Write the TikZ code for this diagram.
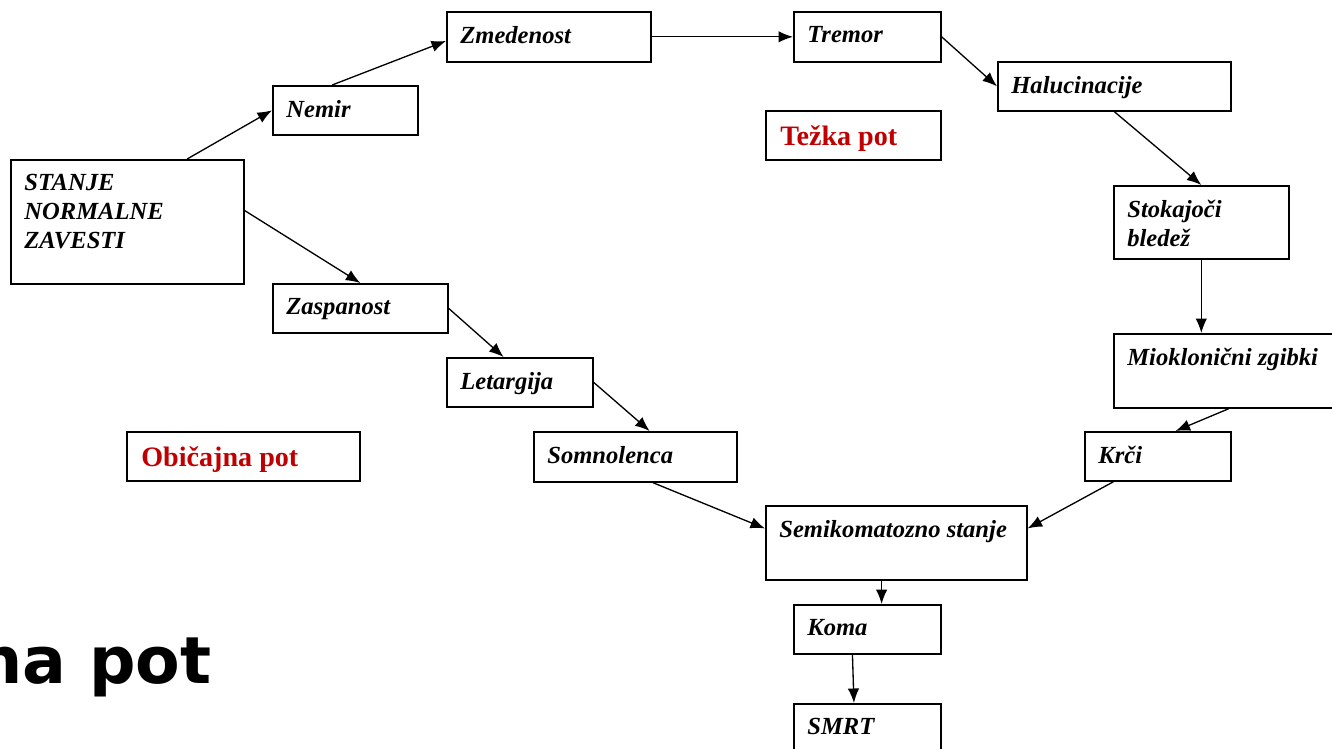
\documentclass[tikz,border=0pt]{standalone}
\usepackage{fontspec}
\setmainfont{Liberation Serif}
\newfontfamily\bigsans{DejaVu Sans}
\usetikzlibrary{calc,arrows.meta}
\definecolor{darkred}{HTML}{C00000}

\tikzset{
  box/.style={draw, line width=0.95pt, anchor=north west, inner sep=0pt,
    minimum height=0.98cm},
  txt/.style={anchor=north west, inner sep=0pt, align=left,
    font=\bfseries\itshape\fontsize{14}{16.5}\selectfont,
    xshift=0.28cm, yshift=-0.3cm},
  redtxt/.style={txt, font=\bfseries\fontsize{16}{19}\selectfont,
    text=darkred, xshift=0.02cm},
  arr/.style={-{Latex[length=2.9mm,width=2.3mm]}, line width=0.75pt},
}

\begin{document}
\begin{tikzpicture}[x=0.02cm, y=-0.02cm]
  \path[use as bounding box, clip] (0,0) rectangle (1332,748);

  % left column and the common path
  \node[box, minimum width=4.66cm, minimum height=2.48cm] (stanje) at (10,159) {};
  \node[txt] (stanjetxt) at (stanje.north west) {STANJE\\NORMALNE\\ZAVESTI};

  \node[box, minimum width=3.5cm] (zaspanost) at (272,283) {};
  \node[txt] (zaspanosttxt) at (zaspanost.north west) {Zaspanost};

  \node[box, minimum width=2.92cm] (letargija) at (446,357) {};
  \node[txt] (letargijatxt) at (letargija.north west) {Letargija};

  \node[box, minimum width=4.06cm, minimum height=1cm] (somnolenca) at (533,431) {};
  \node[txt] (somnolencatxt) at (somnolenca.north west) {Somnolenca};

  \node[box, minimum width=4.66cm] (obicajna) at (126,431) {};
  \node[redtxt] (obicajnatxt) at (obicajna.north west) {Običajna pot};

  % the hard path
  \node[box, minimum width=2.9cm] (nemir) at (272,85) {};
  \node[txt] (nemirtxt) at (nemir.north west) {Nemir};

  \node[box, minimum width=4.08cm, minimum height=1cm] (zmedenost) at (446,11) {};
  \node[txt] (zmedenosttxt) at (zmedenost.north west) {Zmedenost};

  \node[box, minimum width=2.94cm, minimum height=1cm] (tremor) at (793,11) {};
  \node[txt] (tremortxt) at (tremor.north west) {Tremor};

  \node[box, minimum width=3.5cm] (tezka) at (765,110) {};
  \node[redtxt] (tezkatxt) at (tezka.north west) {Težka pot};

  \node[box, minimum width=4.66cm] (halucinacije) at (997,61) {};
  \node[txt] (halucinacijetxt) at (halucinacije.north west) {Halucinacije};

  \node[box, minimum width=3.5cm, minimum height=1.46cm] (stokajoci) at (1113,185) {};
  \node[txt] (stokajocitxt) at (stokajoci.north west) {Stokajoči\\bledež};

  \node[box, minimum width=4.6cm, minimum height=1.48cm] (mioklonicni) at (1113,333) {};
  \node[txt] (mioklonicnitxt) at (mioklonicni.north west) {Mioklonični zgibki};

  \node[box, minimum width=2.92cm] (krci) at (1084,431) {};
  \node[txt] (krcitxt) at (krci.north west) {Krči};

  % the end
  \node[box, minimum width=5.22cm, minimum height=1.48cm] (semikoma) at (765,505) {};
  \node[txt] (semikomatxt) at (semikoma.north west) {Semikomatozno stanje};

  \node[box, minimum width=2.94cm] (koma) at (793,604) {};
  \node[txt] (komatxt) at (koma.north west) {Koma};

  \node[box, minimum width=2.94cm] (smrt) at (793,703) {};
  \node[txt] (smrttxt) at (smrt.north west) {SMRT};

  \node[anchor=base west, inner sep=0pt,
    font=\bigsans\bfseries\fontsize{37}{40}\selectfont] (naslov) at (-24,683) {na pot};

  % arrows
  \draw[arr] ($(stanje.north west)!0.755!(stanje.north east)$) -- (nemir.west);
  \draw[arr] ($(nemir.north west)!0.41!(nemir.north east)$)
    -- ($(zmedenost.north west)!0.58!(zmedenost.south west)$);
  \draw[arr] (zmedenost.east) -- (tremor.west);
  \draw[arr] (tremor.east) -- (halucinacije.west);
  \draw[arr] (halucinacije.south) -- (stokajoci.north);
  \draw[arr] (stokajoci.south) -- (stokajoci.south |- mioklonicni.north);
  \draw[arr] (mioklonicni.south) -- ($(krci.north west)!0.62!(krci.north east)$);
  \draw[arr] ($(krci.south west)!0.2!(krci.south east)$)
    -- ($(semikoma.north east)!0.31!(semikoma.south east)$);

  \draw[arr] ($(stanje.north east)!0.41!(stanje.south east)$) -- (zaspanost.north);
  \draw[arr] (zaspanost.east) -- ($(letargija.north west)!0.39!(letargija.north east)$);
  \draw[arr] (letargija.east) -- ($(somnolenca.north west)!0.57!(somnolenca.north east)$);
  \draw[arr] ($(somnolenca.south west)!0.586!(somnolenca.south east)$)
    -- ($(semikoma.north west)!0.31!(semikoma.south west)$);

  \draw[arr] ($(semikoma.south west)!0.444!(semikoma.south east)$) coordinate (s1)
    -- (s1 |- koma.north);
  \draw[arr] ($(koma.south west)!0.4!(koma.south east)$)
    -- ($(smrt.north west)!0.41!(smrt.north east)$);
\end{tikzpicture}
\end{document}
